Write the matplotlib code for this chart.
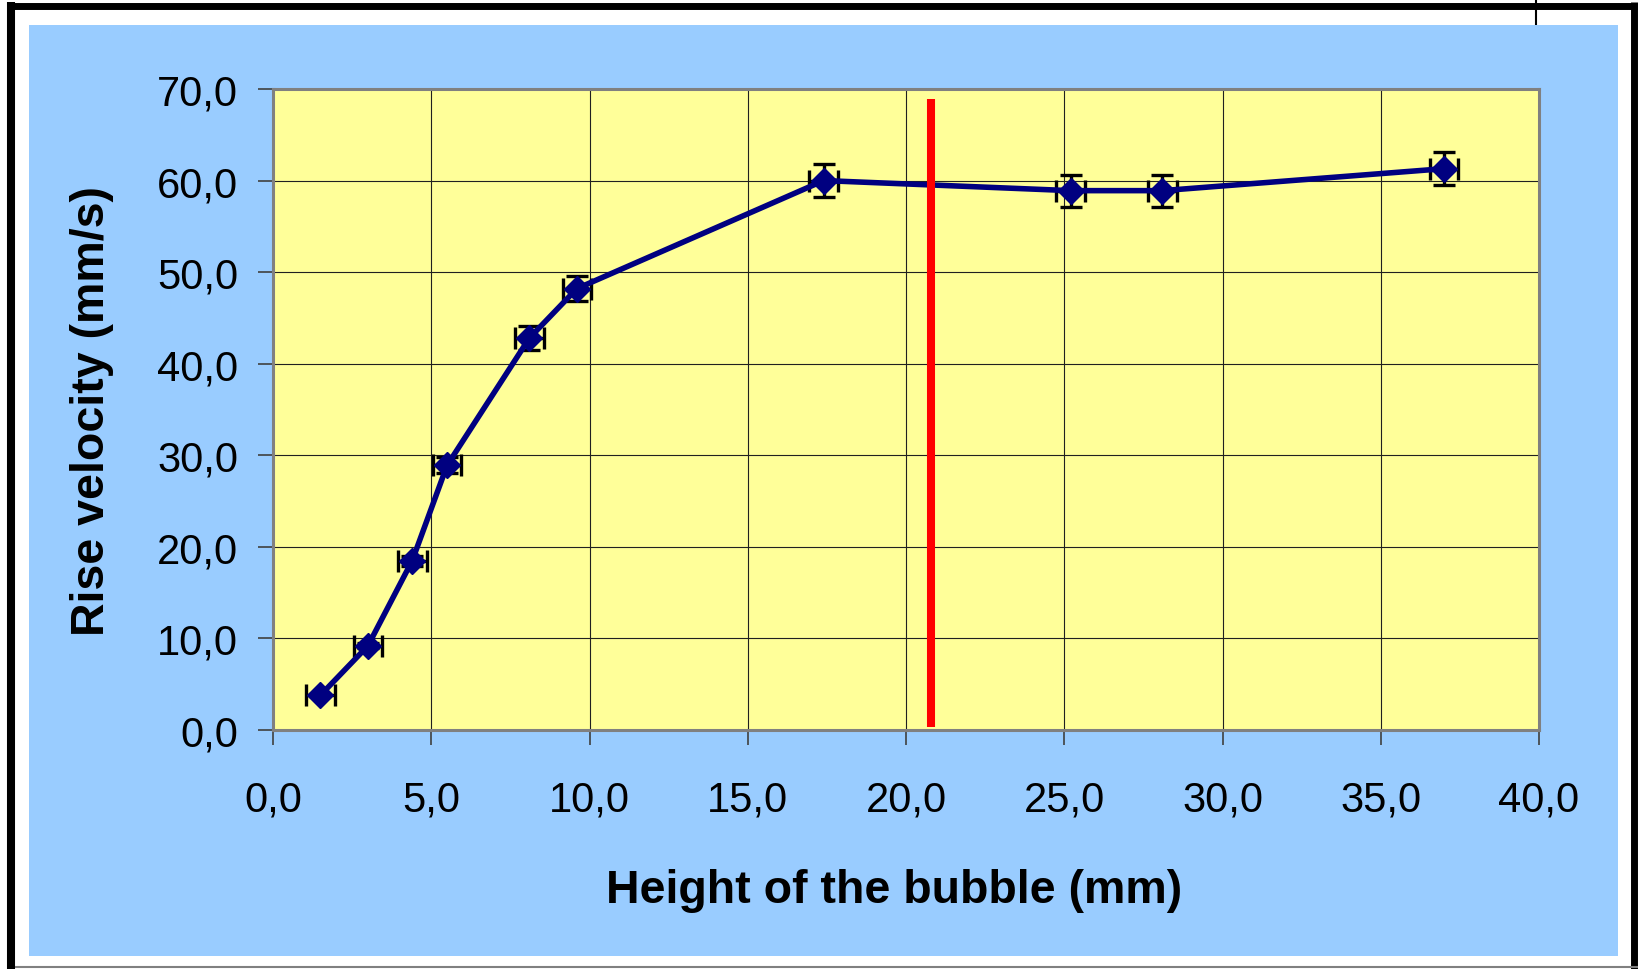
import matplotlib
matplotlib.use("Agg")
from matplotlib import pyplot as plt
from matplotlib.ticker import FuncFormatter, MultipleLocator
from matplotlib.lines import Line2D
from matplotlib.patches import Rectangle

# bubble height (mm) vs rise velocity (mm/s)
height = [1.5, 3.0, 4.4, 5.5, 8.1, 9.6, 17.4, 25.2, 28.1, 37.0]
velocity = [3.8, 9.2, 18.5, 28.9, 42.8, 48.2, 60.0, 58.9, 58.9, 61.3]
height_err = [0.45] * 10
velocity_err = [0.12, 0.28, 0.55, 0.86, 1.27, 1.37, 1.76, 1.75, 1.75, 1.78]

# red vertical marker line
red_x = [20.8, 20.8]
red_y = [0.3, 68.9]

plt.rcParams['font.family'] = ['Liberation Sans', 'DejaVu Sans']

W, H = 1638, 970
fig = plt.figure(figsize=(W / 100, H / 100), dpi=100)
fig.patch.set_facecolor('white')

# blue chart area
fig.patches.append(Rectangle((29 / W, (H - 957) / H), (1618 - 29) / W, (957 - 26) / H,
                             transform=fig.transFigure, facecolor='#99CCFF',
                             edgecolor='none', zorder=-2))

# outer frame
def fline(xs, ys, lw, color='black'):
    fig.lines.append(Line2D([x / W for x in xs], [(H - y) / H for y in ys],
                            transform=fig.transFigure, color=color, lw=lw,
                            solid_capstyle='butt', zorder=-1))

fline([7, 1638], [6.5, 6.5], 5.0)
fline([11, 11], [3, 970], 5.8)
fline([1634, 1634], [3, 970], 5.0)
fline([15, 1638], [968, 968], 1.5, '#808080')
fline([1536, 1536], [0, 26], 1.5)

ax = fig.add_axes([273 / W, (H - 731) / H, (1539 - 273) / W, (731 - 90) / H])
ax.set_zorder(2)
ax.set_facecolor('#FFFF99')
ax.set_xlim(0, 40)
ax.set_ylim(0, 70)
ax.xaxis.set_major_locator(MultipleLocator(5))
ax.yaxis.set_major_locator(MultipleLocator(10))
fmt = FuncFormatter(lambda v, p: f"{v:.1f}".replace('.', ','))
ax.xaxis.set_major_formatter(fmt)
ax.yaxis.set_major_formatter(fmt)

ax.grid(True, color='#202020', lw=0.8, zorder=1)
ax.set_axisbelow(True)
for s in ax.spines.values():
    s.set_color('#808080')
    s.set_linewidth(2.2)

ax.tick_params(axis='y', direction='out', length=11, width=1.2, color='#404040',
               labelsize=30, pad=14)
ax.tick_params(axis='x', direction='out', length=11, width=1.2, color='#404040',
               labelsize=30, pad=25)

ax.errorbar(height, velocity, xerr=height_err, yerr=velocity_err, fmt='none',
            ecolor='black', elinewidth=2.4, capsize=8, capthick=2.4, zorder=3)
ax.plot(height, velocity, color='#000080', lw=4, marker='D', markersize=13.5,
        markerfacecolor='#000080', markeredgecolor='#000080', zorder=4)
ax.plot(red_x, red_y, color='#FF0000', lw=5.8, solid_capstyle='butt', zorder=5)

ax.set_xlabel('Height of the bubble (mm)', fontsize=33.5, fontweight='bold')
ax.set_ylabel('Rise velocity (mm/s)', fontsize=33.5, fontweight='bold')
ax.xaxis.set_label_coords((894 - 273) / (1539 - 273), -(891 - 731) / (731 - 90),
                          transform=ax.transAxes)
ax.yaxis.set_label_coords(-(273 - 92) / (1539 - 273), 0.5, transform=ax.transAxes)
ax.xaxis.label.set_verticalalignment('center')
ax.yaxis.label.set_verticalalignment('center')

fig.savefig('out.png', dpi=100)
